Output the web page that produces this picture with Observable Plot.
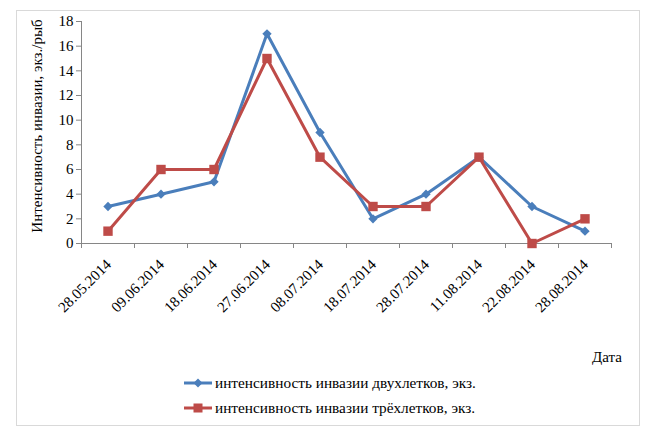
<!DOCTYPE html>
<html>
<head>
<meta charset="utf-8">
<script src="https://cdn.jsdelivr.net/npm/d3@7"></script>
<script src="https://cdn.jsdelivr.net/npm/@observablehq/plot@0.6"></script>
<style>
  html, body { margin: 0; padding: 0; background: #fff; }
  #wrap { position: relative; width: 661px; height: 442px; background: #fff; overflow: hidden;
          font-family: "Liberation Serif", "Times New Roman", serif; color: #000; }
  #frame { position: absolute; left: 16px; top: 10px; width: 624px; height: 416px;
           border: 1px solid #d9d9d9; box-sizing: border-box; }
  #chart { position: absolute; left: 0; top: 0; }
  #chart svg, #chart svg text { font-family: "Liberation Serif", "Times New Roman", serif !important; }
  #chart svg text { fill: #000; }
  #ytitle { position: absolute; left: -93px; top: 116px; width: 260px; height: 20px; line-height: 20px;
            text-align: center; font-size: 15px; transform: rotate(-90deg); white-space: nowrap; }
  #xtitle { position: absolute; right: 39px; top: 347px; font-size: 15px; line-height: 20px; }
  .leg { position: absolute; left: 184px; height: 20px; display: flex; align-items: center;
         font-size: 15.3px; white-space: nowrap; }
  .leg svg { margin-right: 2px; }
</style>
</head>
<body>
<div id="wrap">
  <div id="frame"></div>
  <div id="chart"></div>
  <div id="ytitle">Интенсивность инвазии, экз./рыб</div>
  <div id="xtitle">Дата</div>
  <div id="legend"></div>
</div>
<script>
const dates = ["28.05.2014","09.06.2014","18.06.2014","27.06.2014","08.07.2014","18.07.2014","28.07.2014","11.08.2014","22.08.2014","28.08.2014"];
const twoYear = [3, 4, 5, 17, 9, 2, 4, 7, 3, 1];
const threeYear = [1, 6, 6, 15, 7, 3, 3, 7, 0, 2];
const yTicks = [0, 2, 4, 6, 8, 10, 12, 14, 16, 18];
const seriesNames = ["интенсивность инвазии двухлетков, экз.", "интенсивность инвазии трёхлетков, экз."];
const colors = ["#4a7ebb", "#be4b48"];

const data = dates.map((d, i) => ({i, date: d, a: twoYear[i], b: threeYear[i]}));
const bounds = d3.range(dates.length + 1).map(k => k - 0.5);

const chart = Plot.plot({
  width: 661,
  height: 300,
  marginLeft: 81,
  marginRight: 50,
  marginTop: 21,
  marginBottom: 57,
  style: {fontFamily: "'Liberation Serif', 'Times New Roman', serif", fontSize: "15px", color: "#868686", background: "transparent", overflow: "visible"},
  x: {domain: [-0.5, dates.length - 0.5], ticks: bounds, tickFormat: () => "", tickSize: 5, line: true, label: null},
  y: {domain: [0, 18], ticks: yTicks, tickSize: 5, tickPadding: 3, line: true, label: null},
  marks: [
    Plot.line(data, {x: "i", y: "a", stroke: colors[0], strokeWidth: 3}),
    Plot.line(data, {x: "i", y: "b", stroke: colors[1], strokeWidth: 3}),
    Plot.dot(data, {x: "i", y: "a", symbol: "diamond2", r: 4.2, fill: colors[0], stroke: "none"}),
    Plot.dot(data, {x: "i", y: "b", symbol: "square", r: 5.3, fill: colors[1], stroke: "none"}),
    Plot.text(data, {x: "i", frameAnchor: "bottom", text: "date", rotate: -45, textAnchor: "end", dx: 4, dy: 22, fontSize: 15, fill: "#000"})
  ]
});
document.getElementById("chart").appendChild(chart);

const legend = d3.select("#legend");
seriesNames.forEach((name, k) => {
  const row = legend.append("div").attr("class", "leg").style("top", (373 + k * 25) + "px");
  const s = row.append("svg").attr("width", 29).attr("height", 20);
  s.append("line").attr("x1", 0).attr("x2", 28).attr("y1", 10).attr("y2", 10).attr("stroke", colors[k]).attr("stroke-width", 3);
  if (k === 0) {
    s.append("path").attr("d", "M14,5.5L18.5,10L14,14.5L9.5,10Z").attr("fill", colors[k]);
  } else {
    s.append("rect").attr("x", 9.5).attr("y", 5.5).attr("width", 9).attr("height", 9).attr("fill", colors[k]);
  }
  row.append("span").text(name);
});
</script>
</body>
</html>
